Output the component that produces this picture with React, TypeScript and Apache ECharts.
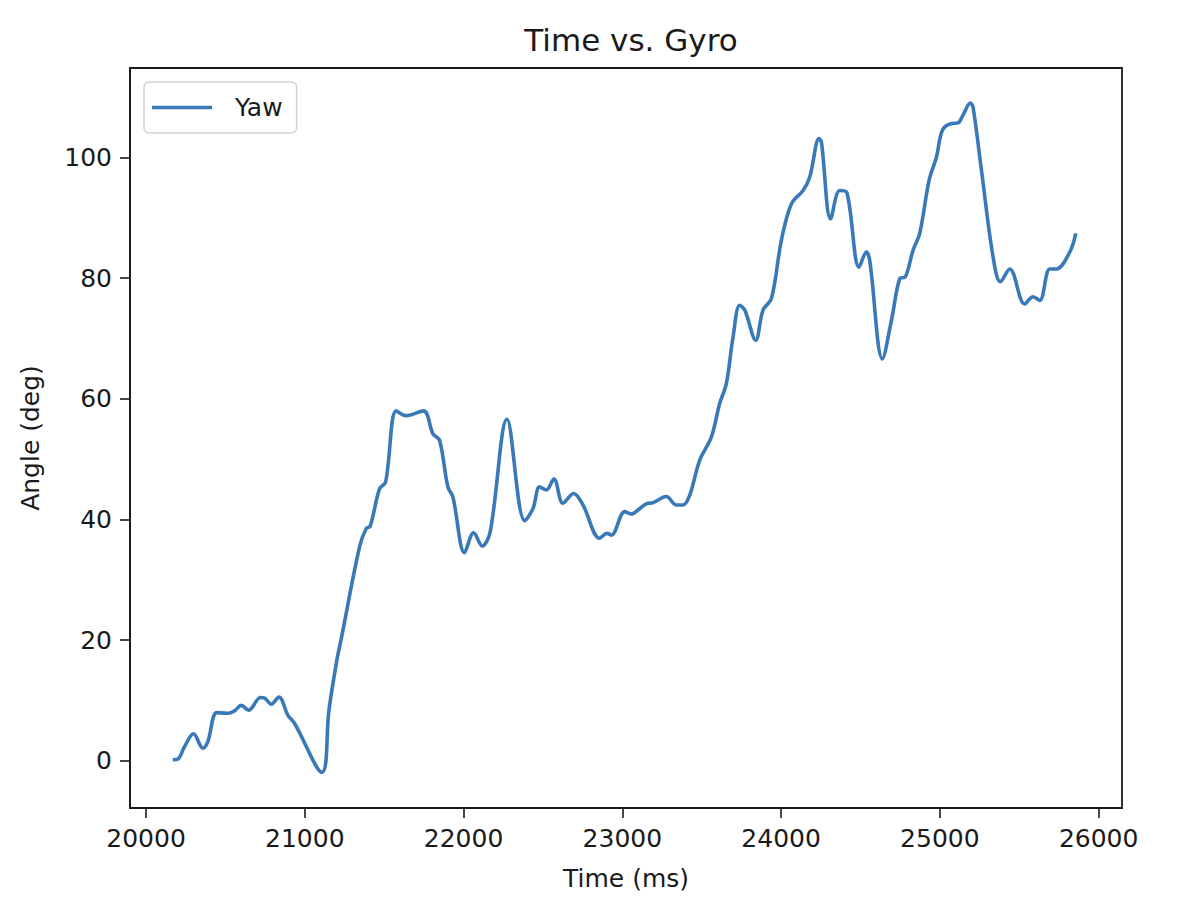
import React, { useEffect, useRef } from "react";
import * as echarts from "echarts";

const timeMs = [
  20168, 20200, 20243, 20299, 20358, 20389, 20446, 20515, 20557, 20600, 20646, 20721, 20747, 20789, 20837,
  20893, 20936, 21108, 21152, 21202, 21230, 21345, 21387, 21412, 21471, 21509, 21576, 21639, 21748, 21807,
  21849, 21901, 21933, 22006, 22063, 22118, 22168, 22273, 22385, 22437, 22479, 22521, 22569, 22626, 22693,
  22752, 22857, 22903, 22931, 23015, 23057, 23105, 23151, 23193, 23277, 23340, 23382, 23424, 23487, 23561,
  23613, 23655, 23697, 23739, 23771, 23840, 23886, 23939, 24002, 24065, 24138, 24180, 24239, 24254, 24312,
  24369, 24415, 24491, 24537, 24558, 24638, 24695, 24747, 24783, 24831, 24873, 24932, 24978, 25016, 25073,
  25114, 25146, 25192, 25209, 25262, 25335, 25381, 25440, 25534, 25587, 25629, 25692, 25734, 25818, 25856,
];
const yawDeg = [
  0.2, 0.3, 2.4, 4.5, 2.1, 3.2, 8.0, 7.9, 8.3, 9.2, 8.4, 10.5, 10.4, 9.4, 10.6,
  7.6, 6.2, -1.9, 8.4, 16.7, 20.3, 35.5, 38.5, 38.9, 45.1, 46.2, 58.0, 57.2, 58.0, 54.2,
  53.1, 45.4, 43.7, 34.5, 37.8, 35.6, 38.0, 56.6, 39.8, 41.8, 45.4, 44.9, 46.7, 42.7, 44.3,
  42.4, 36.9, 37.7, 37.4, 41.3, 40.9, 41.7, 42.6, 42.8, 43.8, 42.4, 42.4, 44.0, 49.8, 53.7,
  59.2, 62.5, 70.2, 75.5, 74.7, 69.7, 74.7, 76.6, 86.3, 92.3, 94.5, 96.7, 103.1, 102.5, 89.8,
  94.5, 94.1, 81.8, 84.3, 82.9, 66.6, 73.0, 79.9, 80.2, 84.6, 87.4, 96.2, 100.0, 104.5, 105.6,
  105.7, 107.0, 109.0, 108.3, 97.8, 83.5, 79.4, 81.5, 75.7, 76.9, 76.3, 81.5, 81.5, 84.3, 87.4,
];
const xTicks = [20000, 21000, 22000, 23000, 24000, 25000, 26000];
const yTicks = [0, 20, 40, 60, 80, 100];

const FONT = "DejaVu Sans";
const TXT = "#1a1a1a";

export default function App() {
  const ref = useRef<HTMLDivElement>(null);
  useEffect(() => {
    if (!ref.current) return;
    const chart = echarts.init(ref.current, null, { renderer: "svg" });
    const data = timeMs.map((t, i) => [t, yawDeg[i]]);
    chart.setOption({
      animation: false,
      backgroundColor: "#ffffff",
      title: {
        text: "Time vs. Gyro",
        left: 626,
        textAlign: "center",
        top: 19,
        textStyle: { fontFamily: FONT, fontSize: 31, fontWeight: "normal", color: TXT },
      },
      legend: {
        left: 144,
        top: 82,
        padding: [13, 14, 13, 8],
        borderColor: "#d3d3d3",
        borderWidth: 1.5,
        borderRadius: 5,
        icon: "rect",
        itemWidth: 60,
        itemHeight: 3.5,
        textStyle: { fontFamily: FONT, fontSize: 25, color: TXT, padding: [0, 0, 0, 18] },
        data: ["Yaw"],
      },
      grid: {
        left: 130,
        right: 66,
        top: 68,
        bottom: 102,
        show: true,
        borderColor: "#1a1a1a",
        borderWidth: 1.8,
        backgroundColor: "transparent",
      },
      xAxis: {
        type: "value",
        min: 19899,
        max: 26147,
        name: "Time (ms)",
        nameLocation: "middle",
        nameGap: 58,
        nameTextStyle: { fontFamily: FONT, fontSize: 25, color: TXT },
        splitLine: { show: false },
        axisLine: { show: true, onZero: false, lineStyle: { color: "#1a1a1a", width: 1.8 } },
        axisTick: { show: true, length: 10, lineStyle: { color: "#1a1a1a", width: 1.6 }, customValues: xTicks },
        axisLabel: {
          fontFamily: FONT,
          fontSize: 25,
          color: TXT,
          margin: 18,
          customValues: xTicks,
          formatter: (v: number) => String(v),
        },
      },
      yAxis: {
        type: "value",
        min: -7.8,
        max: 114.8,
        name: "Angle (deg)",
        nameLocation: "middle",
        nameGap: 87,
        nameRotate: 90,
        nameTextStyle: { fontFamily: FONT, fontSize: 25, color: TXT },
        splitLine: { show: false },
        axisLine: { show: true, onZero: false, lineStyle: { color: "#1a1a1a", width: 1.8 } },
        axisTick: { show: true, length: 10, lineStyle: { color: "#1a1a1a", width: 1.6 }, customValues: yTicks },
        axisLabel: {
          fontFamily: FONT,
          fontSize: 25,
          color: TXT,
          margin: 18,
          customValues: yTicks,
          formatter: (v: number) => String(v),
        },
      },
      series: [
        {
          name: "Yaw",
          type: "line",
          data,
          smooth: 0.35,
          showSymbol: false,
          symbol: "none",
          lineStyle: { color: "#3a79b7", width: 3.6 },
          itemStyle: { color: "#3a79b7" },
        },
      ],
    });
    return () => chart.dispose();
  }, []);
  return (
    <div
      ref={ref}
      style={{ position: "fixed", left: 0, top: 0, width: 1188, height: 910, background: "#fff" }}
    />
  );
}
